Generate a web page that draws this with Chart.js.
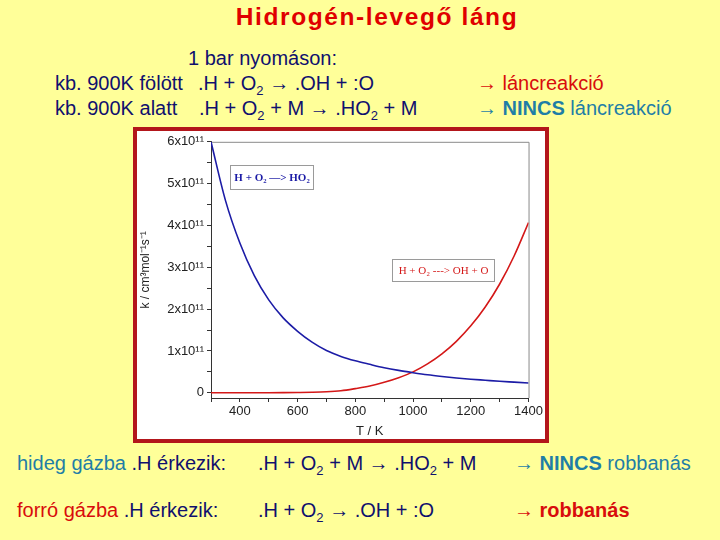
<!DOCTYPE html>
<html lang="hu">
<head>
<meta charset="utf-8">
<script src="https://cdn.jsdelivr.net/npm/chart.js@4/dist/chart.umd.min.js"></script>
<style>
  html, body { margin: 0; padding: 0; }
  body { width: 720px; height: 540px; background: #ffff99; position: relative; overflow: hidden;
         font-family: Arial, "Liberation Sans", sans-serif; color: #10106e; }
  .t { position: absolute; white-space: pre; font-size: 20px; line-height: 20px; }
  .t sub { font-size: 13px; vertical-align: -5px; line-height: 0; }
  .cim { position: absolute; left: 0; width: 754px; text-align: center; top: 5px; letter-spacing: 1.6px;
         font-size: 24.5px; line-height: 24px; font-weight: bold; color: #e00000; }
  .piros { color: #d80c0c; }
  .kek { color: #1f7ea6; }
  b { font-weight: bold; }
  #keret { position: absolute; left: 133px; top: 127px; width: 408px; height: 308px;
           border: 4px solid #b3161b; background: #fff; }
  #keret canvas { display: block; }
</style>
</head>
<body>
<div class="cim">Hidrogén-levegő láng</div>

<div class="t" style="left:188px; top:48px;">1 bar nyomáson:</div>
<div class="t" style="left:55px; top:73px;">kb. 900K fölött</div>
<div class="t" style="left:198px; top:73px;">.H + O<sub>2</sub> → .OH + :O</div>
<div class="t piros" style="left:477px; top:73px;">→ láncreakció</div>
<div class="t" style="left:55px; top:98px;">kb. 900K alatt</div>
<div class="t" style="left:199px; top:98px;">.H + O<sub>2</sub> + M → .HO<sub>2</sub> + M</div>
<div class="t kek" style="left:477px; top:98px;">→ <b>NINCS</b> láncreakció</div>

<div class="t" style="left:17px; top:453px;"><span class="kek">hideg gázba</span> .H érkezik:</div>
<div class="t" style="left:258px; top:453px;">.H + O<sub>2</sub> + M → .HO<sub>2</sub> + M</div>
<div class="t kek" style="left:514px; top:453px;">→ <b>NINCS</b> robbanás</div>
<div class="t" style="left:17px; top:500px;"><span class="piros">forró gázba</span> .H érkezik:</div>
<div class="t" style="left:258px; top:500px;">.H + O<sub>2</sub> → .OH + :O</div>
<div class="t piros" style="left:514px; top:500px;"><b>→ robbanás</b></div>

<div id="keret"><canvas id="grafikon" width="408" height="308"></canvas></div>

<script>
// --- adatok (k értékek 10^11 cm3 mol-1 s-1 egységben) ---
const homersekletek = [300, 350, 400, 450, 500, 550, 600, 650, 700, 750, 800, 850,
                       900, 950, 1000, 1050, 1100, 1150, 1200, 1250, 1300, 1350, 1400];
const kHO2 = [6.0, 4.6, 3.58, 2.8, 2.22, 1.79, 1.47, 1.21, 1.01, 0.87, 0.765, 0.68,
              0.6, 0.535, 0.48, 0.43, 0.39, 0.355, 0.325, 0.3, 0.275, 0.255, 0.235];
const kOHO = [0.0, 0.0, 0.0, 0.0, 0.001, 0.003, 0.007, 0.013, 0.025, 0.05, 0.1, 0.16,
              0.25, 0.36, 0.5, 0.69, 0.93, 1.23, 1.6, 2.05, 2.6, 3.27, 4.07];
const xFeliratok = ['400', '600', '800', '1000', '1200', '1400'];
const yFeliratok = ['0', '1x10¹¹', '2x10¹¹', '3x10¹¹', '4x10¹¹', '5x10¹¹', '6x10¹¹'];
const reakciok = ['H + O₂ —> HO₂', 'H + O₂ ---> OH + O'];

const pontok = (ys) => homersekletek.map((t, i) => ({ x: t, y: ys[i] }));

// keret a rajzterület tetején és jobb oldalán
const keretPlugin = {
    id: 'keret',
    beforeDatasetsDraw(chart) {
        const { ctx, chartArea: a } = chart;
        ctx.save();
        ctx.strokeStyle = '#8a8a8a';
        ctx.lineWidth = 1;
        ctx.beginPath();
        ctx.moveTo(a.left, a.top + 0.5);
        ctx.lineTo(a.right + 0.5, a.top + 0.5);
        ctx.lineTo(a.right + 0.5, a.bottom);
        ctx.stroke();
        ctx.restore();
    }
};

// reakció-címkék dobozban
const cimkePlugin = {
    id: 'cimkek',
    afterDatasetsDraw(chart, args, opts) {
        const { ctx } = chart;
        const sx = chart.scales.x, sy = chart.scales.y;
        opts.dobozok.forEach(d => {
            const x1 = Math.round(sx.getPixelForValue(d.x1)) + 0.5;
            const x2 = Math.round(sx.getPixelForValue(d.x2)) + 0.5;
            const y1 = Math.round(sy.getPixelForValue(d.y1)) + 0.5;
            const y2 = Math.round(sy.getPixelForValue(d.y2)) + 0.5;
            ctx.save();
            ctx.fillStyle = '#fff';
            ctx.fillRect(x1, y1, x2 - x1, y2 - y1);
            ctx.strokeStyle = '#9a9a9a';
            ctx.lineWidth = 1;
            ctx.strokeRect(x1, y1, x2 - x1, y2 - y1);
            ctx.fillStyle = d.szin;
            ctx.font = d.font;
            ctx.textAlign = 'center';
            ctx.textBaseline = 'middle';
            ctx.fillText(d.szoveg, (x1 + x2) / 2, (y1 + y2) / 2 + 1);
            ctx.restore();
        });
    }
};

const tickFont = { family: 'Arial, "Liberation Sans", sans-serif', size: 13 };

new Chart(document.getElementById('grafikon'), {
    type: 'line',
    data: {
        datasets: [
            { label: reakciok[0], data: pontok(kHO2), borderColor: '#1c1ca6', borderWidth: 1.6,
              pointRadius: 0, cubicInterpolationMode: 'monotone' },
            { label: reakciok[1], data: pontok(kOHO), borderColor: '#d41818', borderWidth: 1.6,
              pointRadius: 0, cubicInterpolationMode: 'monotone' }
        ]
    },
    options: {
        responsive: false,
        animation: false,
        layout: { padding: { top: 9, right: 15, left: 0, bottom: 0 } },
        plugins: {
            legend: { display: false },
            tooltip: { enabled: false },
            cimkek: {
                dobozok: [
                    { szoveg: reakciok[0], x1: 366, x2: 652, y1: 5.45, y2: 4.88,
                      szin: '#1c1ca6', font: 'bold 11px "Liberation Serif", "Times New Roman", serif' },
                    { szoveg: reakciok[1], x1: 928, x2: 1279, y1: 3.2, y2: 2.68,
                      szin: '#d41818', font: '11px "Liberation Serif", "Times New Roman", serif' }
                ]
            }
        },
        scales: {
            x: {
                type: 'linear', min: 300, max: 1400,
                ticks: {
                    stepSize: 100, autoSkip: false, maxRotation: 0, padding: 2,
                    color: '#222', font: tickFont,
                    callback: v => xFeliratok.includes(String(v)) ? String(v) : ''
                },
                grid: { drawOnChartArea: false, tickLength: 4, color: '#333' },
                border: { color: '#333', width: 1 },
                title: { display: true, text: 'T / K', color: '#222', font: tickFont,
                         padding: { top: 0, bottom: 0 } },
                afterFit(s) { s.height = 41; }
            },
            y: {
                type: 'linear', min: -0.125, max: 6,
                ticks: {
                    stepSize: 0.5, autoSkip: false, includeBounds: false, padding: 3,
                    color: '#222', font: tickFont,
                    callback: v => Number.isInteger(v) ? yFeliratok[v] : ''
                },
                afterBuildTicks(s) { s.ticks = s.ticks.filter(t => t.value >= 0); },
                grid: { drawOnChartArea: false, tickLength: 4, color: '#333' },
                border: { color: '#333', width: 1 },
                title: { display: true, text: 'k / cm³mol⁻¹s⁻¹', color: '#222', font: { ...tickFont, size: 12 },
                         padding: { top: 1, bottom: 0 } },
                afterFit(s) { s.width = 74; }
            }
        }
    },
    plugins: [keretPlugin, cimkePlugin]
});
</script>
</body>
</html>
